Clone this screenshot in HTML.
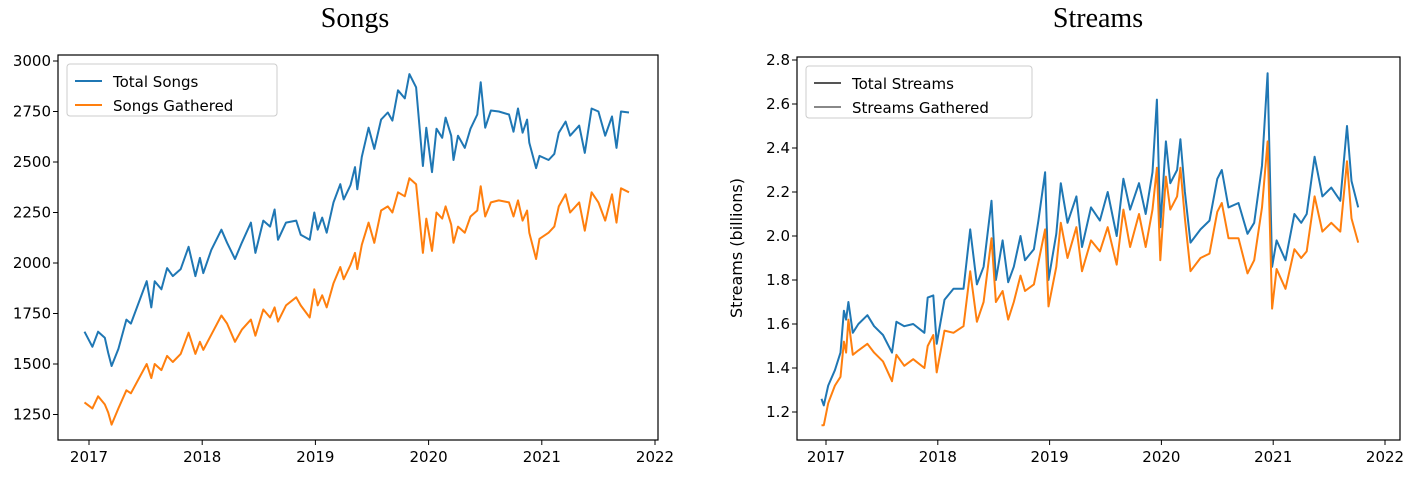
<!DOCTYPE html>
<html><head><meta charset="utf-8"><style>
body{margin:0;background:#fff;width:1413px;height:472px;overflow:hidden}
svg{font-family:"DejaVu Sans","Liberation Sans",sans-serif}
</style></head><body>
<svg id="s" width="1413" height="472">
<text x="355" y="27" font-family="'Liberation Serif',serif" font-size="28" text-anchor="middle">Songs</text>
<text x="1098" y="27" font-family="'Liberation Serif',serif" font-size="28" text-anchor="middle">Streams</text>
<text transform="translate(742,248) rotate(-90)" font-size="16" text-anchor="middle">Streams (billions)</text>
</svg>
<script>
const songDates=[2016.96,2017.03,2017.08,2017.14,2017.17,2017.2,2017.26,2017.33,2017.37,2017.51,2017.55,2017.58,2017.64,2017.69,2017.74,2017.81,2017.88,2017.94,2017.98,2018.01,2018.08,2018.17,2018.22,2018.29,2018.35,2018.43,2018.47,2018.54,2018.6,2018.64,2018.67,2018.74,2018.83,2018.87,2018.95,2018.99,2019.02,2019.06,2019.1,2019.16,2019.22,2019.25,2019.31,2019.35,2019.37,2019.41,2019.47,2019.52,2019.58,2019.64,2019.68,2019.73,2019.79,2019.83,2019.89,2019.95,2019.98,2020.03,2020.07,2020.12,2020.15,2020.2,2020.22,2020.26,2020.32,2020.37,2020.43,2020.46,2020.5,2020.55,2020.62,2020.71,2020.75,2020.79,2020.83,2020.87,2020.89,2020.95,2020.98,2021.06,2021.11,2021.15,2021.21,2021.25,2021.33,2021.38,2021.44,2021.5,2021.56,2021.62,2021.66,2021.7,2021.77];
const totalSongs=[1660,1585,1660,1630,1555,1490,1575,1720,1700,1910,1780,1910,1870,1975,1935,1970,2080,1935,2025,1950,2065,2165,2100,2020,2100,2200,2050,2210,2180,2265,2115,2200,2210,2140,2115,2250,2165,2225,2150,2300,2390,2315,2385,2475,2365,2525,2670,2565,2710,2745,2705,2855,2815,2935,2870,2480,2670,2450,2665,2620,2720,2630,2510,2630,2570,2665,2735,2895,2670,2755,2750,2735,2650,2765,2645,2710,2595,2470,2530,2510,2540,2645,2700,2630,2680,2545,2765,2750,2630,2725,2570,2750,2745];
const songsGathered=[1310,1280,1340,1300,1260,1200,1280,1370,1355,1500,1430,1500,1470,1540,1510,1550,1655,1550,1610,1570,1645,1740,1700,1610,1670,1720,1640,1770,1730,1780,1710,1790,1830,1790,1730,1870,1790,1840,1780,1900,1980,1920,1990,2050,1970,2090,2200,2100,2260,2280,2250,2350,2330,2420,2390,2050,2220,2060,2250,2220,2280,2190,2100,2180,2150,2230,2260,2380,2230,2300,2310,2300,2230,2310,2210,2260,2150,2020,2120,2150,2180,2280,2340,2250,2300,2160,2350,2300,2210,2340,2200,2370,2350];
const streamDates=[2016.96,2016.98,2017.02,2017.08,2017.13,2017.16,2017.18,2017.2,2017.24,2017.29,2017.37,2017.43,2017.51,2017.59,2017.63,2017.7,2017.78,2017.88,2017.91,2017.96,2017.99,2018.06,2018.14,2018.23,2018.29,2018.35,2018.41,2018.48,2018.52,2018.58,2018.63,2018.68,2018.74,2018.78,2018.86,2018.9,2018.96,2018.99,2019.06,2019.1,2019.16,2019.24,2019.29,2019.37,2019.45,2019.52,2019.6,2019.66,2019.72,2019.8,2019.86,2019.92,2019.96,2019.99,2020.04,2020.08,2020.14,2020.17,2020.21,2020.26,2020.35,2020.43,2020.5,2020.54,2020.6,2020.69,2020.77,2020.83,2020.9,2020.95,2020.99,2021.03,2021.11,2021.19,2021.25,2021.3,2021.37,2021.44,2021.52,2021.6,2021.66,2021.7,2021.76];
const totalStreams=[1.26,1.23,1.32,1.39,1.47,1.66,1.62,1.70,1.56,1.60,1.64,1.59,1.55,1.47,1.61,1.59,1.60,1.56,1.72,1.73,1.51,1.71,1.76,1.76,2.03,1.78,1.86,2.16,1.80,1.98,1.79,1.86,2.0,1.89,1.94,2.07,2.29,1.80,2.01,2.24,2.06,2.18,1.95,2.13,2.07,2.20,2.0,2.26,2.12,2.24,2.10,2.29,2.62,2.04,2.43,2.24,2.30,2.44,2.2,1.97,2.03,2.07,2.26,2.30,2.13,2.15,2.01,2.06,2.32,2.74,1.86,1.98,1.89,2.10,2.06,2.10,2.36,2.18,2.22,2.16,2.50,2.25,2.13];
const streamsGathered=[1.14,1.14,1.24,1.32,1.36,1.52,1.47,1.62,1.46,1.48,1.51,1.47,1.43,1.34,1.46,1.41,1.44,1.40,1.50,1.55,1.38,1.57,1.56,1.59,1.84,1.61,1.70,1.99,1.70,1.75,1.62,1.70,1.82,1.75,1.78,1.88,2.03,1.68,1.86,2.06,1.90,2.04,1.84,1.98,1.93,2.04,1.87,2.12,1.95,2.10,1.95,2.12,2.31,1.89,2.27,2.12,2.18,2.31,2.08,1.84,1.90,1.92,2.11,2.15,1.99,1.99,1.83,1.89,2.13,2.43,1.67,1.85,1.76,1.94,1.90,1.93,2.18,2.02,2.06,2.02,2.34,2.08,1.97];
const xTicks=[2017,2018,2019,2020,2021,2022];
const songTicks=[1250,1500,1750,2000,2250,2500,2750,3000];
const streamTicks=[1.2,1.4,1.6,1.8,2.0,2.2,2.4,2.6,2.8];

const svg=document.getElementById('s');
const NS='http://www.w3.org/2000/svg';
function mk(tag,attrs,parent){const e=document.createElementNS(NS,tag);for(const k in attrs)e.setAttribute(k,attrs[k]);(parent||svg).appendChild(e);return e;}

function chart(o){
  const g=mk('g',{});
  
  
  const fr=mk('rect',{x:o.L,y:o.T,width:o.R-o.L,height:o.B-o.T,fill:'none',stroke:'#000','stroke-width':1.2},g);
  
  
  xTicks.forEach(t=>{
    const x=o.xs(t);
    mk('line',{x1:x,x2:x,y1:o.B,y2:o.B+5,stroke:'#000'},g);
    const tx=mk('text',{x:x,y:o.B+22,'font-size':15,'text-anchor':'middle'},g);
    tx.textContent=t;
    
    
  });
  o.yt.forEach(t=>{
    const y=o.ys(t);
    mk('line',{x1:o.L-5,x2:o.L,y1:y,y2:y,stroke:'#000'},g);
    const tx=mk('text',{x:o.L-7,y:y+5,'font-size':15,'text-anchor':'end'},g);
    tx.textContent=o.fmt(t);
    
    
  });
  o.series.forEach(s=>{
    const p=mk('polyline',{points:o.dates.map((d,i)=>o.xs(d).toFixed(1)+','+o.ys(s.v[i]).toFixed(1)).join(' '),fill:'none',stroke:s.c,'stroke-width':2,'stroke-linejoin':'round'},g);
    
    
  });
  const lg=mk('g',{},g);
  
  
  mk('rect',{x:o.L+9,y:o.T+9,width:o.lw,height:52,rx:3,fill:'#fff',stroke:'#ccc'},lg);
  o.leg.forEach((l,i)=>{
    const y=o.T+26+i*24;
    mk('line',{x1:o.L+17,x2:o.L+44,y1:y,y2:y,stroke:l.c,'stroke-width':2},lg);
    const t=mk('text',{x:o.L+55,y:y+6,'font-size':15},lg);
    t.textContent=l.t;
    
    
  });
}
chart({name:'songs-chart',L:58,R:658,T:55,B:440,lw:210,
  xs:d=>89+(d-2017)*113.2, ys:v=>61+(3000-v)*50.5/250, yt:songTicks, fmt:t=>t,
  dates:songDates,
  series:[{n:'total-songs-line',v:totalSongs,c:'#1f77b4'},{n:'songs-gathered-line',v:songsGathered,c:'#ff7f0e'}],
  leg:[{t:'Total Songs',c:'#1f77b4'},{t:'Songs Gathered',c:'#ff7f0e'}]});
chart({name:'streams-chart',L:797,R:1400,T:57,B:440,lw:226,
  xs:d=>826+(d-2017)*111.8, ys:v=>60+(2.8-v)*220, yt:streamTicks, fmt:t=>t.toFixed(1),
  dates:streamDates,
  series:[{n:'total-streams-line',v:totalStreams,c:'#1f77b4'},{n:'streams-gathered-line',v:streamsGathered,c:'#ff7f0e'}],
  leg:[{t:'Total Streams',c:'#555'},{t:'Streams Gathered',c:'#888'}]});
</script>
</body></html>
